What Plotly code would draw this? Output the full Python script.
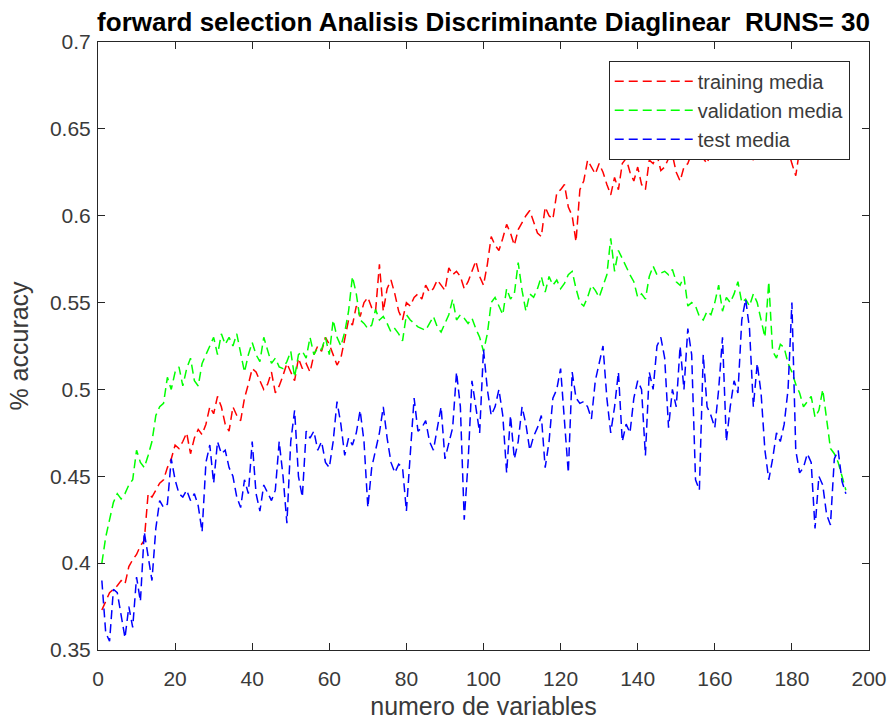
import plotly.graph_objects as go

TITLE = "forward selection Analisis Discriminante Diaglinear&nbsp; RUNS= 30"
X_LABEL = "numero de variables"
Y_LABEL = "% accuracy"

x_vals = list(range(1, 195))

training_media = [
    0.373, 0.378, 0.383, 0.385, 0.387, 0.390, 0.388, 0.398, 0.402, 0.405,
    0.410, 0.413, 0.440, 0.438, 0.442, 0.446, 0.448, 0.455, 0.460, 0.468,
    0.466, 0.470, 0.475, 0.463, 0.472, 0.477, 0.474, 0.480, 0.490, 0.486,
    0.496, 0.490, 0.480, 0.476, 0.490, 0.485, 0.482, 0.495, 0.503, 0.512,
    0.510, 0.505, 0.500, 0.503, 0.510, 0.498, 0.502, 0.508, 0.515, 0.510,
    0.505, 0.518, 0.512, 0.515, 0.510, 0.520, 0.525, 0.522, 0.530, 0.526,
    0.520, 0.514, 0.518, 0.528, 0.540, 0.537, 0.548, 0.542, 0.550, 0.553,
    0.547, 0.545, 0.572, 0.545, 0.558, 0.563, 0.555, 0.545, 0.540, 0.550,
    0.548, 0.553, 0.555, 0.552, 0.560, 0.556, 0.558, 0.563, 0.560, 0.557,
    0.570, 0.566, 0.568, 0.565, 0.558, 0.562, 0.568, 0.574, 0.565, 0.560,
    0.572, 0.588, 0.583, 0.580, 0.587, 0.595, 0.590, 0.583, 0.592, 0.596,
    0.600, 0.603, 0.597, 0.590, 0.588, 0.605, 0.600, 0.598, 0.613, 0.615,
    0.618, 0.605, 0.600, 0.585, 0.615, 0.620, 0.632, 0.628, 0.624, 0.630,
    0.625, 0.618, 0.612, 0.622, 0.615, 0.630, 0.633, 0.625, 0.620, 0.628,
    0.618, 0.615, 0.632, 0.630, 0.635, 0.626, 0.628, 0.633, 0.635, 0.625,
    0.620, 0.628, 0.630, 0.636, 0.635, 0.638, 0.633, 0.630, 0.637, 0.635,
    0.640, 0.642, 0.638, 0.641, 0.644, 0.640, 0.643, 0.639, 0.636, 0.632,
    0.640, 0.644, 0.642, 0.645, 0.641, 0.643, 0.646, 0.640, 0.638, 0.630,
    0.623, 0.638, 0.644, 0.646, 0.642, 0.645, 0.648, 0.644, 0.646, 0.643,
    0.647, 0.645, 0.648, 0.646,
]

validation_media = [
    0.400, 0.415, 0.425, 0.435, 0.440, 0.437, 0.440, 0.445, 0.448, 0.465,
    0.458, 0.455, 0.462, 0.470, 0.485, 0.490, 0.492, 0.507, 0.500, 0.510,
    0.513, 0.502, 0.512, 0.518, 0.505, 0.502, 0.515, 0.520, 0.525, 0.530,
    0.520, 0.532, 0.526, 0.530, 0.525, 0.532, 0.521, 0.510, 0.520, 0.527,
    0.520, 0.516, 0.530, 0.522, 0.515, 0.518, 0.513, 0.512, 0.516, 0.522,
    0.507, 0.520, 0.522, 0.518, 0.530, 0.520, 0.524, 0.523, 0.530, 0.520,
    0.540, 0.530, 0.525, 0.533, 0.545, 0.565, 0.555, 0.540, 0.538, 0.535,
    0.537, 0.546, 0.540, 0.542, 0.538, 0.533, 0.535, 0.532, 0.528, 0.543,
    0.540, 0.538, 0.536, 0.535, 0.534, 0.538, 0.542, 0.536, 0.533, 0.538,
    0.543, 0.552, 0.540, 0.543, 0.541, 0.538, 0.541, 0.535, 0.530, 0.522,
    0.532, 0.550, 0.553, 0.548, 0.543, 0.558, 0.552, 0.555, 0.573, 0.557,
    0.545, 0.555, 0.553, 0.558, 0.565, 0.556, 0.565, 0.560, 0.563, 0.558,
    0.561, 0.566, 0.568, 0.558, 0.550, 0.548, 0.553, 0.560, 0.557, 0.553,
    0.560, 0.566, 0.587, 0.568, 0.580, 0.575, 0.570, 0.566, 0.562, 0.553,
    0.555, 0.552, 0.565, 0.571, 0.566, 0.567, 0.568, 0.566, 0.569, 0.562,
    0.560, 0.565, 0.548, 0.550, 0.548, 0.542, 0.540, 0.545, 0.543, 0.550,
    0.560, 0.545, 0.553, 0.550, 0.555, 0.562, 0.550, 0.552, 0.548, 0.555,
    0.550, 0.540, 0.530, 0.562, 0.522, 0.518, 0.526, 0.524, 0.515, 0.510,
    0.503, 0.498, 0.490, 0.493, 0.496, 0.484, 0.488, 0.500, 0.483, 0.466,
    0.463, 0.458, 0.450, 0.442,
]

test_media = [
    0.390, 0.360, 0.355, 0.385, 0.383, 0.370, 0.357, 0.375, 0.363, 0.392,
    0.378, 0.418, 0.405, 0.390, 0.420, 0.436, 0.432, 0.434, 0.460, 0.448,
    0.440, 0.438, 0.442, 0.436, 0.440, 0.433, 0.418, 0.458, 0.468, 0.446,
    0.470, 0.463, 0.465, 0.455, 0.450, 0.438, 0.432, 0.448, 0.440, 0.470,
    0.440, 0.430, 0.445, 0.440, 0.436, 0.442, 0.470, 0.450, 0.423, 0.470,
    0.488, 0.450, 0.438, 0.476, 0.472, 0.476, 0.465, 0.470, 0.458, 0.455,
    0.470, 0.493, 0.480, 0.462, 0.472, 0.468, 0.475, 0.488, 0.470, 0.432,
    0.455, 0.465, 0.475, 0.490, 0.472, 0.458, 0.452, 0.457, 0.455, 0.430,
    0.462, 0.495, 0.476, 0.478, 0.482, 0.470, 0.465, 0.478, 0.490, 0.460,
    0.470, 0.478, 0.510, 0.490, 0.425, 0.458, 0.505, 0.490, 0.475, 0.523,
    0.500, 0.485, 0.490, 0.500, 0.485, 0.452, 0.485, 0.460, 0.470, 0.490,
    0.480, 0.465, 0.473, 0.478, 0.485, 0.455, 0.470, 0.495, 0.500, 0.512,
    0.484, 0.452, 0.510, 0.495, 0.492, 0.493, 0.490, 0.483, 0.505, 0.515,
    0.525, 0.495, 0.475, 0.490, 0.510, 0.470, 0.480, 0.475, 0.495, 0.505,
    0.500, 0.462, 0.510, 0.500, 0.525, 0.530, 0.518, 0.478, 0.500, 0.490,
    0.525, 0.500, 0.535, 0.520, 0.448, 0.442, 0.520, 0.490, 0.485, 0.478,
    0.500, 0.530, 0.470, 0.490, 0.505, 0.498, 0.540, 0.552, 0.535, 0.490,
    0.515, 0.498, 0.465, 0.448, 0.460, 0.475, 0.470, 0.480, 0.500, 0.550,
    0.465, 0.452, 0.455, 0.463, 0.458, 0.420, 0.450, 0.445, 0.428, 0.422,
    0.460, 0.465, 0.447, 0.440,
]

series_names = ["training media", "validation media", "test media"]
series_colors = ["#ff0000", "#00ff00", "#0000ff"]

x_tickvals = [0, 20, 40, 60, 80, 100, 120, 140, 160, 180, 200]
y_tickvals = [0.35, 0.4, 0.45, 0.5, 0.55, 0.6, 0.65, 0.7]
y_ticktext = ["0.35", "0.4", "0.45", "0.5", "0.55", "0.6", "0.65", "0.7"]

FONT = "Liberation Sans, Arial, Helvetica, sans-serif"
AX_COLOR = "#262626"

fig = go.Figure()
for name, ys, col in zip(series_names, [training_media, validation_media, test_media], series_colors):
    fig.add_trace(go.Scatter(
        x=x_vals, y=ys, mode="lines", name=name,
        line=dict(color=col, width=1.5, dash="9px,5px"),
    ))

axis_common = dict(
    showgrid=False, zeroline=False, showline=True, linecolor=AX_COLOR, linewidth=1,
    mirror="ticks", ticks="inside", ticklen=7, tickcolor=AX_COLOR, tickwidth=1,
    tickfont=dict(family=FONT, size=21, color="#3a3a3a"),
)

fig.update_layout(
    width=891, height=725,
    paper_bgcolor="white", plot_bgcolor="white",
    margin=dict(l=98, r=22, t=42, b=75),
    title=dict(text="<b>" + TITLE + "</b>", x=0.5, xref="paper", xanchor="center",
               y=1 - 22 / 725, yref="container", yanchor="middle",
               font=dict(family=FONT, size=26, color="#000000")),
    xaxis=dict(range=[0, 200], tickvals=x_tickvals, automargin=False, ticklabelstandoff=10,
               title=dict(text=X_LABEL, font=dict(family=FONT, size=25, color="#3a3a3a"), standoff=8),
               **axis_common),
    yaxis=dict(range=[0.35, 0.7], tickvals=y_tickvals, ticktext=y_ticktext, automargin=False,
               ticklabelstandoff=2,
               title=dict(text=Y_LABEL, font=dict(family=FONT, size=25, color="#3a3a3a"), standoff=14),
               **axis_common),
    legend=dict(x=0.975, y=0.969, xanchor="right", yanchor="top",
                bgcolor="white", bordercolor=AX_COLOR, borderwidth=1,
                font=dict(family=FONT, size=20, color="#3a3a3a"),
                itemwidth=78, tracegroupgap=0),
    showlegend=True,
)

fig.write_html("out.html")
